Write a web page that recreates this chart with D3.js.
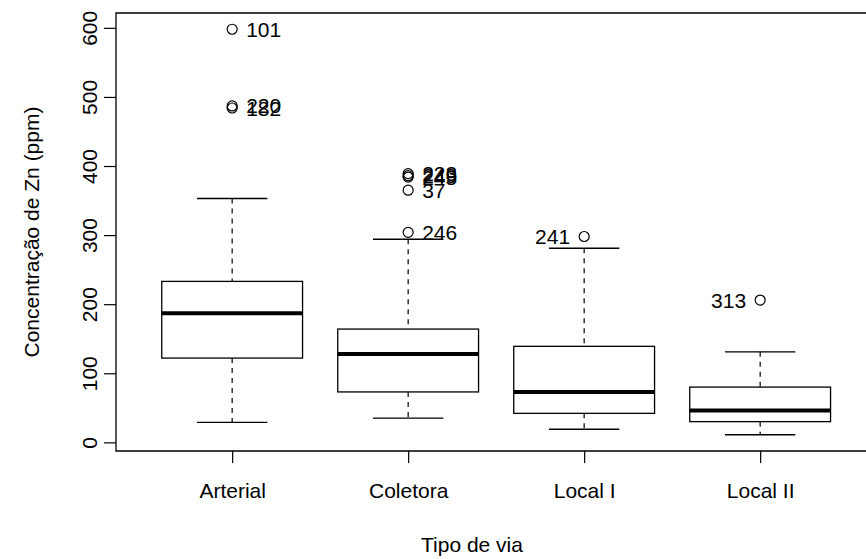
<!DOCTYPE html>
<html>
<head>
<meta charset="utf-8">
<script src="https://cdn.jsdelivr.net/npm/d3@7"></script>
<style>
  body { margin: 0; background: #fff; }
  svg { display: block; font-family: "Liberation Sans", Arial, sans-serif; }
</style>
</head>
<body>
<div id="chart"></div>
<script>
// categories and five-number summaries
var categories = ["Arterial", "Coletora", "Local I", "Local II"];
var whiskerLow = [29, 35, 19, 11];
var q1 = [122, 73, 42, 30];
var median = [187, 128, 73, 46];
var q3 = [233, 164, 139, 80];
var whiskerHigh = [353, 294, 281, 131];
// outliers: group index, value, id label
var outGroup = [0, 0, 0, 1, 1, 1, 1, 1, 2, 3];
var outValue = [598, 487, 484, 389, 386, 384, 365, 304, 298, 206];
var outLabel = ["101", "220", "182", "223", "249", "245", "37", "246", "241", "313"];
var outSide = ["r", "r", "r", "r", "r", "r", "r", "r", "l", "l"];
var yTicks = [0, 100, 200, 300, 400, 500, 600];

var width = 866, height = 559;
var plotLeft = 116, plotTop = 13, plotBottom = 451;
var fs = 21;

var svg = d3.select("#chart").append("svg")
    .attr("width", width)
    .attr("height", height);

var x = d3.scaleLinear().domain([0.34, 4.66]).range([plotLeft, plotLeft + 4.32 * 176]);
var y = d3.scaleLinear().domain([-12.5, 621.5]).range([plotBottom, plotTop]);
var bw = 0.4; // half box width in x units

var g = svg.append("g");

// frame (right side falls outside the picture)
g.append("path")
    .attr("d", "M" + x(4.66) + "," + plotTop + "H" + plotLeft + "V" + plotBottom + "H" + x(4.66))
    .attr("fill", "none").attr("stroke", "#000").attr("stroke-width", 1.3);

// y axis
var yAxis = g.append("g").attr("transform", "translate(" + plotLeft + ",0)")
    .call(d3.axisLeft(y).tickValues(yTicks).tickSize(12).tickPadding(0).tickFormat(d3.format("d")));
yAxis.select(".domain").remove();
yAxis.selectAll("line").attr("stroke", "#000").attr("stroke-width", 1.2);
yAxis.selectAll("text")
    .attr("x", null)
    .attr("transform", "translate(-26,0) rotate(-90)")
    .attr("text-anchor", "middle")
    .attr("dy", "0.35em")
    .attr("font-size", fs).attr("fill", "#000")
    .attr("font-family", "Liberation Sans, Arial, sans-serif");

// x axis
var xAxis = g.append("g").attr("transform", "translate(0," + plotBottom + ")")
    .call(d3.axisBottom(x).tickValues([1, 2, 3, 4]).tickSize(12).tickPadding(20)
        .tickFormat(function (d) { return categories[d - 1]; }));
xAxis.select(".domain").remove();
xAxis.selectAll("line").attr("stroke", "#000").attr("stroke-width", 1.2);
xAxis.selectAll("text").attr("font-size", fs).attr("fill", "#000")
    .attr("font-family", "Liberation Sans, Arial, sans-serif");

// boxes
var idx = d3.range(categories.length);
var boxes = g.selectAll("g.box").data(idx).enter().append("g").attr("class", "box");

boxes.append("line")
    .attr("x1", function (i) { return x(i + 1); }).attr("x2", function (i) { return x(i + 1); })
    .attr("y1", function (i) { return y(whiskerHigh[i]); }).attr("y2", function (i) { return y(q3[i]); })
    .attr("stroke", "#000").attr("stroke-width", 1.2).attr("stroke-dasharray", "5,5");
boxes.append("line")
    .attr("x1", function (i) { return x(i + 1); }).attr("x2", function (i) { return x(i + 1); })
    .attr("y1", function (i) { return y(q1[i]); }).attr("y2", function (i) { return y(whiskerLow[i]); })
    .attr("stroke", "#000").attr("stroke-width", 1.2).attr("stroke-dasharray", "5,5");
[whiskerHigh, whiskerLow].forEach(function (arr) {
    boxes.append("line")
        .attr("x1", function (i) { return x(i + 1 - bw / 2); }).attr("x2", function (i) { return x(i + 1 + bw / 2); })
        .attr("y1", function (i) { return y(arr[i]); }).attr("y2", function (i) { return y(arr[i]); })
        .attr("stroke", "#000").attr("stroke-width", 1.3);
});
boxes.append("rect")
    .attr("x", function (i) { return x(i + 1 - bw); })
    .attr("width", function (i) { return x(i + 1 + bw) - x(i + 1 - bw); })
    .attr("y", function (i) { return y(q3[i]); })
    .attr("height", function (i) { return y(q1[i]) - y(q3[i]); })
    .attr("fill", "none").attr("stroke", "#000").attr("stroke-width", 1.3);
boxes.append("line")
    .attr("x1", function (i) { return x(i + 1 - bw); }).attr("x2", function (i) { return x(i + 1 + bw); })
    .attr("y1", function (i) { return y(median[i]); }).attr("y2", function (i) { return y(median[i]); })
    .attr("stroke", "#000").attr("stroke-width", 4);

// outliers
var outs = d3.range(outValue.length);
g.selectAll("circle.out").data(outs).enter().append("circle")
    .attr("class", "out")
    .attr("cx", function (k) { return x(outGroup[k] + 1); })
    .attr("cy", function (k) { return y(outValue[k]); })
    .attr("r", 5).attr("fill", "none").attr("stroke", "#000").attr("stroke-width", 1.2);
g.selectAll("text.lab").data(outs).enter().append("text")
    .attr("class", "lab")
    .attr("x", function (k) { return x(outGroup[k] + 1) + (outSide[k] === "r" ? 14 : -14); })
    .attr("y", function (k) { return y(outValue[k]); })
    .attr("dy", "0.36em")
    .attr("text-anchor", function (k) { return outSide[k] === "r" ? "start" : "end"; })
    .attr("font-size", fs)
    .text(function (k) { return outLabel[k]; });

// axis titles
svg.append("text")
    .attr("x", 472).attr("y", 552)
    .attr("text-anchor", "middle").attr("font-size", fs)
    .text("Tipo de via");
svg.append("text")
    .attr("transform", "translate(39," + (plotTop + plotBottom) / 2 + ") rotate(-90)")
    .attr("text-anchor", "middle").attr("font-size", fs)
    .text("Concentração de Zn (ppm)");
</script>
</body>
</html>
